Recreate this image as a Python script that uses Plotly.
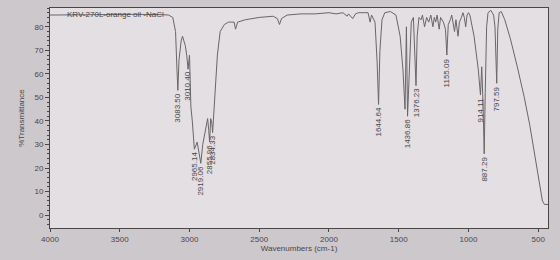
import plotly.graph_objects as go

# Spectrum vertices (wavenumber cm-1, %T)
wavenumbers = [4000, 3800, 3600, 3400, 3200, 3150, 3120, 3100, 3090, 3083.5, 3075, 3060, 3050,
               3040, 3030, 3020, 3010.4, 3000, 2990, 2980, 2965.14, 2945, 2930, 2919.06, 2905,
               2885, 2870, 2862, 2855.96, 2848, 2840, 2834.33, 2820, 2800, 2780, 2750, 2720,
               2680, 2670, 2655, 2600, 2500, 2400, 2370, 2355, 2340, 2300, 2200, 2100, 2000,
               1950, 1900, 1870, 1860, 1830, 1810, 1790, 1720, 1705, 1695, 1670, 1655, 1644.64,
               1635, 1620, 1600, 1560, 1520, 1490, 1470, 1455, 1448, 1445, 1436.86, 1425, 1410,
               1395, 1385, 1376.23, 1368, 1355, 1340, 1330, 1315, 1300, 1285, 1270, 1255, 1245,
               1235, 1225, 1210, 1200, 1180, 1165, 1155.09, 1145, 1130, 1120, 1100, 1090, 1075,
               1065, 1050, 1040, 1030, 1020, 1010, 1000, 990, 975, 960, 945, 930, 914.11, 905,
               895, 887.29, 880, 870, 860, 840, 820, 810, 797.59, 790, 780, 765, 740, 700, 650,
               600, 560, 520, 490, 470, 455, 445, 430]
transmittance = [85.0, 85.2, 85.3, 85.3, 85.2, 85.0, 84.0, 78, 62, 53, 66, 74, 76,
                 74, 72, 68, 62, 68, 46, 40, 28, 31, 26, 22, 30,
                 37, 41, 36, 31, 41, 39, 35, 48, 68, 78, 81, 82,
                 82, 79, 82, 83, 84, 84.5, 83.5, 81, 83.5, 85, 85.5, 85.5, 86,
                 85.5, 86, 84.5, 85.5, 83.5, 85.5, 86, 86, 82, 85, 82, 65, 47,
                 70, 83, 86, 86.5, 85, 76, 62, 45, 62, 80, 42, 60, 82,
                 84, 72, 55, 76, 84, 83, 85, 80, 84, 82, 85, 80, 84,
                 82, 85, 79, 84, 82, 79, 68, 81, 83, 85, 78, 83, 76,
                 82, 84, 86, 84, 80, 85, 86, 85, 81, 76, 69, 62, 51, 63,
                 46, 26, 52, 80, 86, 87, 85, 80, 56, 79, 86, 86.5, 83, 75, 63,
                 50, 38, 23, 12, 6, 4.5, 4.5, 4.5]

# Labelled peaks
peak_wn = [3083.50, 3010.40, 2965.14, 2919.06, 2855.96, 2834.33, 1644.64, 1436.86,
           1376.23, 1155.09, 914.11, 887.29, 797.59]
peak_t = [53, 62, 28, 22, 31, 35, 47, 42, 55, 68, 51, 26, 56]
peak_labels = ["3083.50", "3010.40", "2965.14", "2919.06", "2855.96", "2834.33", "1644.64",
               "1436.86", "1376.23", "1155.09", "914.11", "887.29", "797.59"]

x_ticks = [4000, 3500, 3000, 2500, 2000, 1500, 1000, 500]
y_ticks = [0, 10, 20, 30, 40, 50, 60, 70, 80]

ink = "#4a4648"
fig = go.Figure()
fig.add_trace(go.Scatter(x=wavenumbers, y=transmittance, mode="lines",
                         line=dict(color="#6a6668", width=1), hoverinfo="skip"))

for wn, t, lab in zip(peak_wn, peak_t, peak_labels):
    fig.add_annotation(x=wn, y=t, text=lab, showarrow=False, textangle=-90,
                       xanchor="center", yanchor="top", yshift=-1,
                       font=dict(family="Liberation Sans, Arial", size=8, color=ink))

fig.add_annotation(xref="paper", yref="paper", x=0.03, y=1.0, xanchor="left", yanchor="top",
                   text="KRV-270L-orange oil -NaCl", showarrow=False,
                   font=dict(family="Liberation Sans, Arial", size=8, color=ink))

fig.update_layout(
    width=560, height=260,
    margin=dict(l=50, r=12, t=8, b=32),
    paper_bgcolor="#cdc8cc",
    plot_bgcolor="#e4dfe2",
    showlegend=False,
    font=dict(family="Liberation Sans, Arial", size=8, color=ink),
)
fig.update_xaxes(range=[4000, 430], tickvals=x_ticks, showgrid=False, zeroline=False,
                 showline=True, linecolor=ink, linewidth=1, mirror=True,
                 ticks="outside", ticklen=3, tickcolor=ink,
                 title=dict(text="Wavenumbers (cm-1)", standoff=2,
                            font=dict(size=8, color=ink)))
fig.update_yaxes(range=[-5.5, 88], tickvals=y_ticks, showgrid=False, zeroline=False,
                 showline=True, linecolor=ink, linewidth=1, mirror=True,
                 ticks="outside", ticklen=4, tickcolor=ink,
                 minor=dict(dtick=2, ticks="outside", ticklen=2, tickcolor=ink),
                 title=dict(text="%Transmittance", standoff=8,
                            font=dict(size=8, color=ink)))

fig.write_html("out.html")
